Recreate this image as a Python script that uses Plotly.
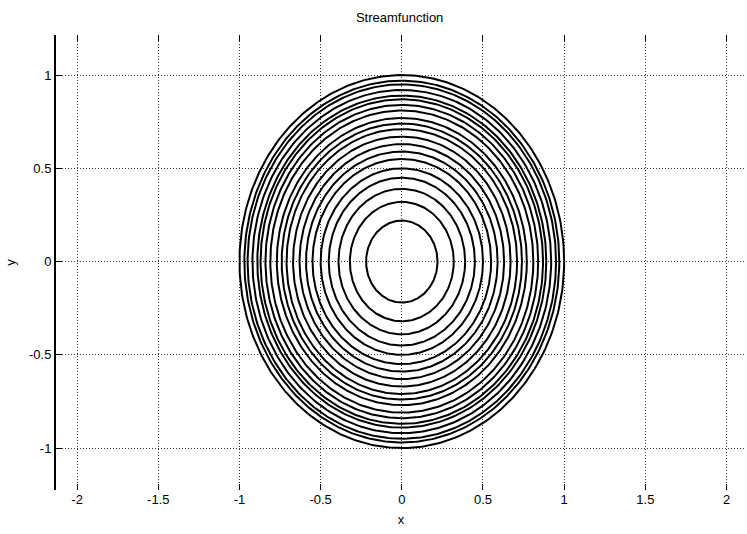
import numpy as np
import plotly.graph_objects as go

# Contour radii (streamfunction levels, concentric circles)
contour_radii = [0.22, 0.32, 0.39, 0.45, 0.50, 0.55, 0.59, 0.63, 0.67, 0.71,
                 0.74, 0.77, 0.81, 0.84, 0.87, 0.89, 0.92, 0.95, 0.97, 1.00]
x_ticks = [-2, -1.5, -1, -0.5, 0, 0.5, 1, 1.5, 2]
x_tick_labels = ["-2", "-1.5", "-1", "-0.5", "0", "0.5", "1", "1.5", "2"]
y_ticks = [-1, -0.5, 0, 0.5, 1]
y_tick_labels = ["-1", "-0.5", "0", "0.5", "1"]

theta = np.linspace(0, 2 * np.pi, 361)
xs, ys = [], []
for r in contour_radii:
    xs.extend(list(r * np.cos(theta)) + [None])
    ys.extend(list(r * np.sin(theta)) + [None])

fig = go.Figure()
fig.add_trace(go.Scatter(x=xs, y=ys, mode="lines",
                         line=dict(color="black", width=2),
                         hoverinfo="skip", showlegend=False))

font = dict(family="Liberation Sans, Arial, sans-serif", size=13, color="black")

fig.update_layout(
    width=747, height=534,
    margin=dict(l=56, r=1, t=35, b=44),
    paper_bgcolor="white", plot_bgcolor="white",
    font=font,
    title=dict(text="Streamfunction", x=0.535, xanchor="center", y=0.968, yanchor="middle",
               font=dict(family="Liberation Sans, Arial, sans-serif", size=13, color="black")),
    xaxis=dict(range=[-2.13, 2.12], tickvals=x_ticks, ticktext=x_tick_labels,
               showgrid=True, gridcolor="#333333", griddash="1px,2px", gridwidth=1,
               zeroline=False, showline=False, mirror="ticks",
               ticks="inside", ticklen=6, tickcolor="black",
               title=dict(text="x", standoff=8, font=font)),
    yaxis=dict(range=[-1.225, 1.215], tickvals=y_ticks, ticktext=y_tick_labels,
               showgrid=True, gridcolor="#333333", griddash="1px,2px", gridwidth=1,
               zeroline=False, showline=True, linecolor="black", linewidth=2,
               ticks="inside", ticklen=6, tickcolor="black",
               title=dict(text="y", standoff=10, font=font)),
)

fig.write_html("out.html")
